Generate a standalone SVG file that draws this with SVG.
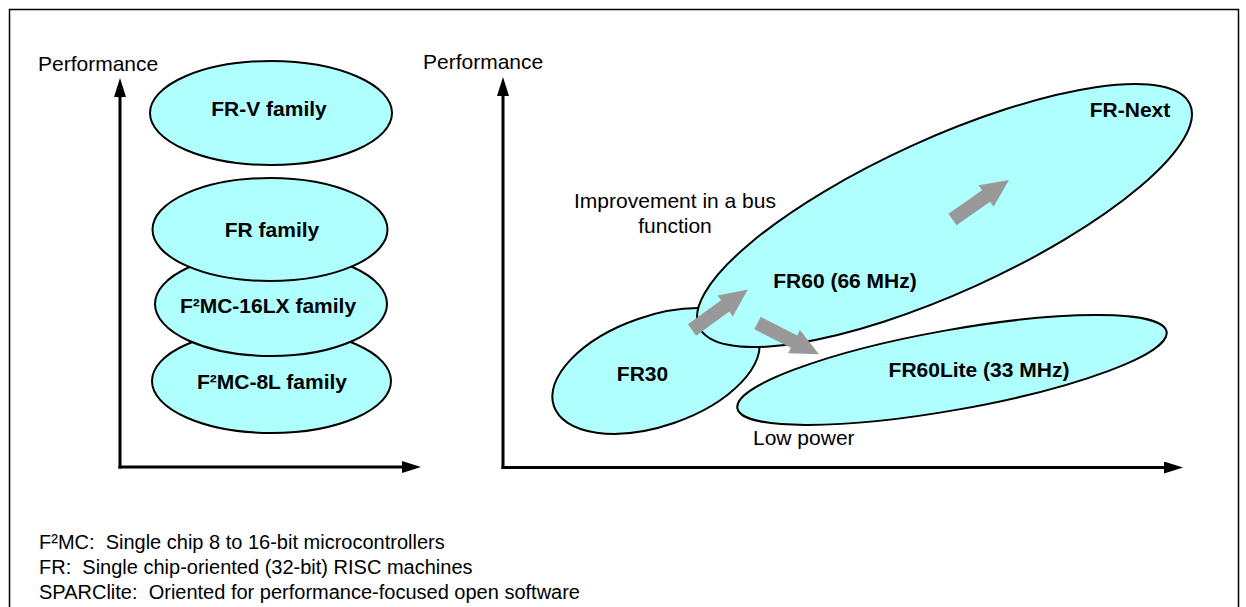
<svg xmlns="http://www.w3.org/2000/svg" xmlns:xlink="http://www.w3.org/1999/xlink" width="1246" height="607" viewBox="0 0 1246 607">
<style>
text{font-family:"Liberation Sans",Arial,Helvetica,sans-serif;fill:#000}
.lbl{font-size:21px}
.b{font-size:21px;font-weight:bold;text-anchor:middle}
.leg{font-size:20px}
.ell{fill:#B0FFFF;stroke:#000;stroke-width:2}
.axis{stroke:#000;stroke-width:3;fill:none;marker-end:url(#ah)}
.blk{fill:#999999}
</style>
<defs>
<marker id="ah" markerUnits="userSpaceOnUse" viewBox="0 0 19 12" refX="0" refY="6" markerWidth="19" markerHeight="12" orient="auto">
<path d="M0,0 L19,6 L0,12 Z" fill="#000"/>
</marker>
<path id="blkarrow" d="M0,-7 H41 V-13 L69,0 L41,13 V7 H0 Z"/>
</defs>
<rect x="9.5" y="9.5" width="1229" height="640" fill="#fff" stroke="#000" stroke-width="1.5"/>

<g id="axes">
<path class="axis" d="M120,468.5 V97"/>
<path class="axis" d="M118.5,467 H402"/>
<path class="axis" d="M503,469 V96"/>
<path class="axis" d="M501.5,467.5 H1164"/>
<text class="lbl" x="38" y="71">Performance</text>
<text class="lbl" x="423" y="69">Performance</text>
</g>

<g id="node-f2mc8l"><ellipse class="ell" cx="271.5" cy="381" rx="119.5" ry="52"/><text class="b" x="272" y="389">F²MC-8L family</text></g>
<g id="node-f2mc16lx"><ellipse class="ell" cx="271" cy="304" rx="116" ry="52"/><text class="b" x="268" y="313">F²MC-16LX family</text></g>
<g id="node-fr"><ellipse class="ell" cx="270" cy="229.5" rx="117.5" ry="51.5"/><text class="b" x="272" y="237">FR family</text></g>
<g id="node-frv"><ellipse class="ell" cx="271" cy="113" rx="121" ry="52"/><text class="b" x="269" y="116">FR-V family</text></g>

<g id="node-fr30"><ellipse class="ell" transform="translate(656,371) rotate(-19)" rx="108" ry="55"/><text class="b" x="642.5" y="381">FR30</text></g>
<g id="node-fr60lite"><ellipse class="ell" transform="translate(952,370) rotate(-10.1)" rx="218" ry="40"/><text class="b" x="979" y="377">FR60Lite (33 MHz)</text></g>
<g id="node-fr60"><ellipse class="ell" transform="translate(944.5,215.5) rotate(-24.4)" rx="269.5" ry="77"/><text class="b" x="845" y="288">FR60 (66 MHz)</text><text class="b" x="1130" y="117">FR-Next</text></g>

<g id="connectors" class="blk">
<use xlink:href="#blkarrow" transform="translate(692,330) rotate(-36)"/>
<use xlink:href="#blkarrow" transform="translate(757.5,323) rotate(27)"/>
<use xlink:href="#blkarrow" transform="translate(952.5,219.5) rotate(-35)"/>
</g>

<g id="annotations">
<text class="lbl" x="675" y="208" text-anchor="middle">Improvement in a bus</text>
<text class="lbl" x="675" y="232.5" text-anchor="middle">function</text>
<text class="lbl" x="753" y="445">Low power</text>
</g>

<g id="legend">
<text class="leg" x="39" y="549" xml:space="preserve">F²MC:  Single chip 8 to 16-bit microcontrollers</text>
<text class="leg" x="39" y="574" xml:space="preserve">FR:  Single chip-oriented (32-bit) RISC machines</text>
<text class="leg" x="39" y="599" xml:space="preserve">SPARClite:  Oriented for performance-focused open software</text>
</g>
</svg>
